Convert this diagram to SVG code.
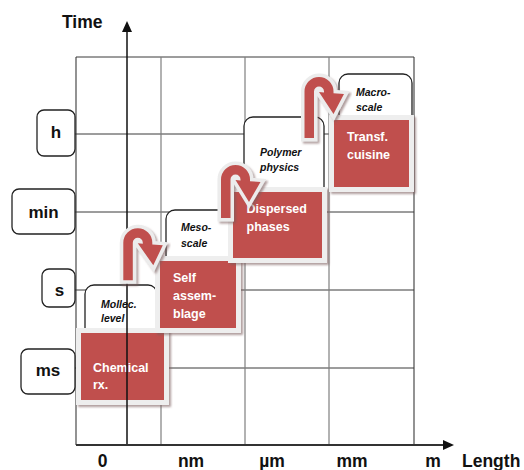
<svg xmlns="http://www.w3.org/2000/svg" width="524" height="470" viewBox="0 0 524 470">
<style>
.grid-h{stroke:#3a3a3a;stroke-width:1;fill:none}
.grid-v{stroke:#7f7f7f;stroke-width:1.2;fill:none}
.frame{stroke:#3a3a3a;stroke-width:1.1;fill:none}
.lbl{fill:#fff;stroke:#222;stroke-width:1.3}
.lbltxt{font-family:"Liberation Sans",Arial,sans-serif;font-weight:bold;font-size:17px;fill:#111;text-anchor:middle}
.axtxt{font-family:"Liberation Sans",Arial,sans-serif;font-weight:bold;font-size:17.5px;fill:#111}
.scale{fill:#fff;stroke:#222;stroke-width:1.3}
.scaletxt{font-family:"Liberation Sans",Arial,sans-serif;font-weight:bold;font-style:italic;font-size:10.5px;fill:#111}
.red{fill:#C0504D;stroke:#eeeeee;stroke-width:10;paint-order:stroke;filter:url(#sh)}
.redtxt{font-family:"Liberation Sans",Arial,sans-serif;font-weight:bold;font-size:12.5px;fill:#fff}
.arr{fill:#C0504D;stroke:#ececec;stroke-width:7;stroke-linejoin:miter;stroke-miterlimit:6;paint-order:stroke;filter:url(#sh)}
.axis{stroke:#111;fill:none}
</style>
<defs>
<filter id="sh" x="-20%" y="-20%" width="140%" height="140%">
<feDropShadow dx="2" dy="2" stdDeviation="1" flood-color="#7a5a5a" flood-opacity="0.6"/>
</filter>
</defs>

<g id="grid">
<line class="grid-h" x1="76" y1="57" x2="414" y2="57"/>
<line class="grid-h" x1="75" y1="134" x2="414" y2="134"/>
<line class="grid-h" x1="75" y1="212" x2="414" y2="212"/>
<line class="grid-h" x1="75" y1="290" x2="414" y2="290"/>
<line class="grid-h" x1="75" y1="368" x2="414" y2="368"/>
<line class="frame" x1="76" y1="57" x2="76" y2="445"/>
<line class="grid-v" x1="161" y1="57" x2="161" y2="445"/>
<line class="grid-v" x1="245" y1="57" x2="245" y2="445"/>
<line class="grid-v" x1="329" y1="57" x2="329" y2="445"/>
<line class="frame" x1="414" y1="57" x2="414" y2="445"/>
</g>

<g id="time-labels">
<g id="lbl-h"><rect class="lbl" x="37" y="110" width="38" height="46" rx="7"/><text class="lbltxt" x="56" y="138">h</text></g>
<g id="lbl-min"><rect class="lbl" x="12" y="189" width="63" height="45" rx="7"/><text class="lbltxt" x="43.5" y="218">min</text></g>
<g id="lbl-s"><rect class="lbl" x="42" y="269" width="33" height="38" rx="7"/><text class="lbltxt" x="59.5" y="296">s</text></g>
<g id="lbl-ms"><rect class="lbl" x="21" y="349" width="54" height="45" rx="7"/><text class="lbltxt" x="48" y="376">ms</text></g>
</g>

<g id="scale-mollec"><rect class="scale" x="85" y="285" width="72" height="60" rx="9"/>
<text class="scaletxt" x="101" y="308">Mollec.</text><text class="scaletxt" x="101" y="322">level</text></g>
<g id="scale-meso"><rect class="scale" x="166" y="210" width="72" height="60" rx="9"/>
<text class="scaletxt" x="181" y="231">Meso-</text><text class="scaletxt" x="181" y="247">scale</text></g>
<g id="scale-polymer"><rect class="scale" x="244" y="117" width="80" height="80" rx="9"/>
<text class="scaletxt" x="260" y="155.5">Polymer</text><text class="scaletxt" x="260" y="171">physics</text></g>
<g id="scale-macro"><rect class="scale" x="339" y="74" width="73" height="60" rx="9"/>
<text class="scaletxt" x="356" y="96">Macro-</text><text class="scaletxt" x="356" y="111">scale</text></g>

<g id="node-chemical"><rect class="red" x="81" y="333" width="83" height="67"/>
<text class="redtxt" x="93" y="372">Chemical</text><text class="redtxt" x="93" y="389">rx.</text></g>

<g id="axes">
<line class="axis" x1="127" y1="445" x2="127" y2="31" stroke-width="1.5"/>
<polygon points="127,21 122,32 132,32" fill="#111"/>
<line x1="76" y1="445" x2="444" y2="445" stroke="#333" stroke-width="2"/>
<polygon points="454,445 443,440 443,450" fill="#111"/>
<text class="axtxt" x="62" y="28">Time</text>
<text class="axtxt" x="102.5" y="467" text-anchor="middle">0</text>
<text class="axtxt" x="191" y="467" text-anchor="middle">nm</text>
<text class="axtxt" x="272" y="467" text-anchor="middle">µm</text>
<text class="axtxt" x="352" y="467" text-anchor="middle">mm</text>
<text class="axtxt" x="433" y="467" text-anchor="middle">m</text>
<text class="axtxt" x="462" y="467">Length</text>
</g>

<g id="node-self"><rect class="red" x="160" y="261" width="76" height="67"/>
<text class="redtxt" x="173" y="282">Self</text><text class="redtxt" x="173" y="300">assem-</text><text class="redtxt" x="173" y="318">blage</text></g>
<g id="node-dispersed"><rect class="red" x="233" y="192" width="89" height="66"/>
<text class="redtxt" x="246.5" y="213">Dispersed</text><text class="redtxt" x="246.5" y="231">phases</text></g>
<g id="node-transf"><rect class="red" x="334" y="120" width="75" height="67"/>
<text class="redtxt" x="347" y="141">Transf.</text><text class="redtxt" x="347" y="159">cuisine</text></g>

<g id="connectors">
<path class="arr" transform="translate(123.3,228.3)" d="M0,52 L0,14.5 A14.5,14.5 0 0 1 29,14.5 L29,16.2 L39.5,17 L30,37 L14.5,15 L19.5,15.4 L19.5,14.5 A5,5 0 0 0 9.5,14.5 L9.5,52 Z"/>
<path class="arr" transform="translate(221,165)" d="M0,53 L0,14.5 A14.5,14.5 0 0 1 29,14.5 L29,16.2 L39.5,17 L28,37 L14.5,15 L19.5,15.4 L19.5,14.5 A5,5 0 0 0 9.5,14.5 L9.5,53 Z"/>
<path class="arr" transform="translate(304.5,77)" d="M0,61 L0,14.5 A14.5,14.5 0 0 1 29,14.5 L29,16.2 L39.5,17 L29,37 L14.5,15 L19.5,15.4 L19.5,14.5 A5,5 0 0 0 9.5,14.5 L9.5,61 Z"/>
</g>
</svg>
